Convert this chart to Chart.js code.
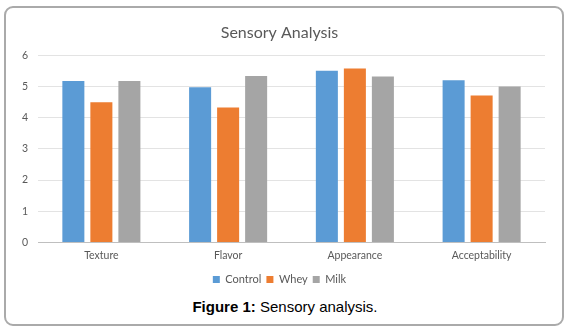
<!DOCTYPE html>
<html lang="en">
<head>
<meta charset="UTF-8">
<title>Sensory Analysis</title>
<script src="https://cdn.jsdelivr.net/npm/chart.js"></script>
<style>
  body { margin: 0; background: #fff; width: 570px; height: 333px; position: relative; overflow: hidden; }
  .moldura { position: absolute; left: 4px; top: 6px; width: 560px; height: 320px; box-sizing: border-box;
             border: 2px solid #aaa; border-radius: 9px; }
  .grafico { position: absolute; left: 6px; top: 8px; width: 556px; height: 287px; }
  .legenda-fig { position: absolute; left: 0; width: 570px; top: 298px; text-align: center;
                 font-family: "Liberation Sans", Arial, sans-serif; font-size: 15px; color: #000; }
</style>
</head>
<body>
  <div class="moldura"></div>
  <div class="grafico"><canvas id="myChartCanvas"></canvas></div>
  <div class="legenda-fig"><b>Figure 1:</b> Sensory analysis.</div>
<script>
// dados
var categorias = ["Texture", "Flavor", "Appearance", "Acceptability"];
var controle = [5.17, 4.97, 5.50, 5.20];
var soro = [4.49, 4.32, 5.57, 4.71];
var leite = [5.17, 5.33, 5.32, 5.00];
var ticksY = [0, 1, 2, 3, 4, 5, 6];

var fonte = "Lato, 'Open Sans', sans-serif";
var cinzaTexto = '#595959';

var dados = {
  labels: categorias,
  datasets: [
    { label: "Control", data: controle, backgroundColor: '#5B9BD5' },
    { label: "Whey", data: soro, backgroundColor: '#ED7D31' },
    { label: "Milk", data: leite, backgroundColor: '#A5A5A5' }
  ]
};

var config = {
  type: 'bar',
  data: dados,
  options: {
    responsive: true,
    maintainAspectRatio: false,
    animation: false,
    categoryPercentage: 0.663,
    barPercentage: 0.786,
    layout: { padding: { top: 3, left: 8, right: 17, bottom: 0 } },
    plugins: {
      title: {
        display: true,
        text: "Sensory Analysis",
        color: cinzaTexto,
        font: { family: fonte, size: 16, weight: 'normal' },
        padding: { top: 12, bottom: 13 }
      },
      legend: {
        position: 'bottom',
        labels: {
          color: cinzaTexto,
          font: { family: fonte, size: 11 },
          boxWidth: 7,
          boxHeight: 7,
          padding: 5
        }
      },
      tooltip: { enabled: false }
    },
    scales: {
      x: {
        grid: { display: false, drawTicks: false },
        border: { color: '#BFBFBF', width: 1 },
        ticks: { color: cinzaTexto, font: { family: fonte, size: 10.5 }, padding: 7 }
      },
      y: {
        min: 0,
        max: 6,
        afterBuildTicks: function (eixo) { eixo.ticks = ticksY.map(function (v) { return { value: v }; }); },
        afterFit: function (eixo) { eixo.width = 24; },
        grid: { color: '#E3E3E3', drawTicks: false },
        border: { display: false },
        ticks: { color: cinzaTexto, font: { family: fonte, size: 10.5 }, padding: 10 }
      }
    }
  }
};

var myChart = new Chart(document.getElementById('myChartCanvas'), config);
</script>
</body>
</html>
